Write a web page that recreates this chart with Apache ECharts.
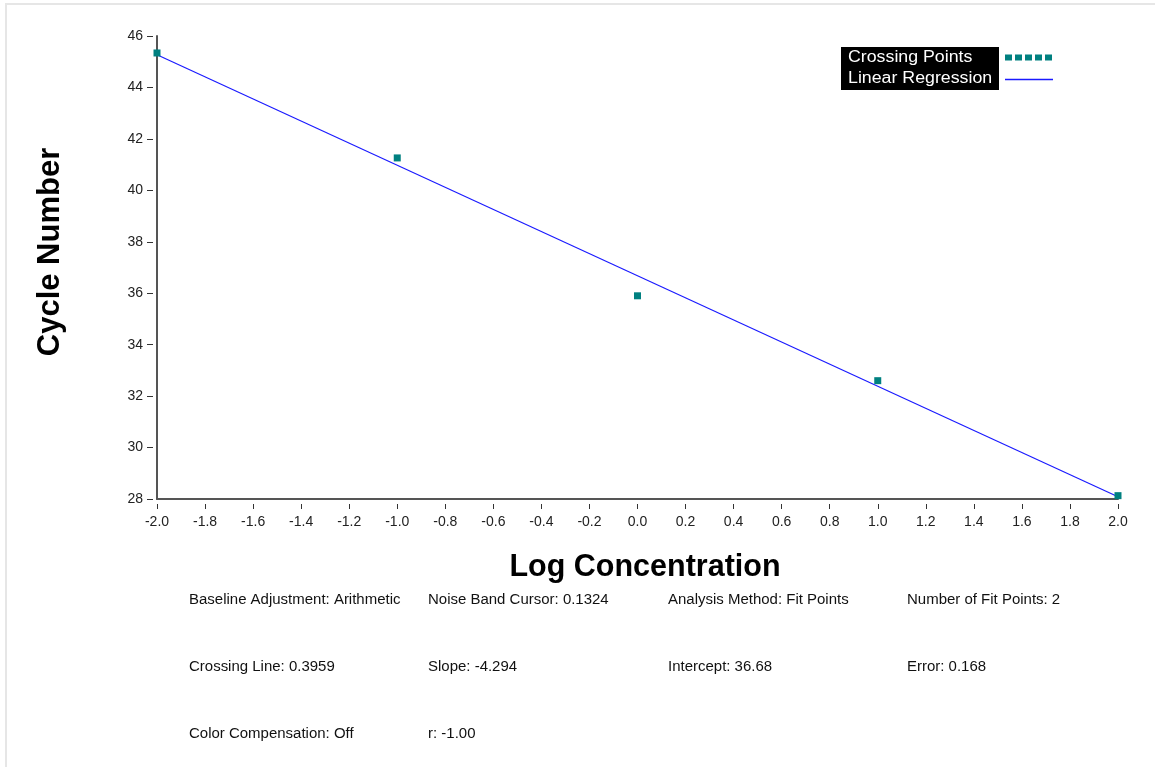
<!DOCTYPE html>
<html>
<head>
<meta charset="utf-8">
<script src="https://cdn.jsdelivr.net/npm/echarts@6/dist/echarts.min.js"></script>
<style>
html,body{margin:0;padding:0;background:#fff;}
#frame{position:absolute;left:5px;top:3px;width:1150px;height:764px;border-top:2px solid #e6e6e6;border-left:2px solid #e6e6e6;}
#chart{position:absolute;left:0;top:0;width:1155px;height:767px;}
</style>
</head>
<body>
<div id="frame"></div>
<div id="chart"></div>
<script>
// ---- data ----
const logConcentration = [-2, -1, 0, 1, 2];
const crossingPoints = [45.34, 41.26, 35.90, 32.60, 28.13];
const regressionX = [-2, 2];
const regressionY = [45.27, 28.09];
const yTicks = [28, 30, 32, 34, 36, 38, 40, 42, 44, 46];
const xTicks = [-2.0,-1.8,-1.6,-1.4,-1.2,-1.0,-0.8,-0.6,-0.4,-0.2,0.0,0.2,0.4,0.6,0.8,1.0,1.2,1.4,1.6,1.8,2.0];
const statsCol1 = ["Baseline Adjustment: Arithmetic", "Crossing Line: 0.3959", "Color Compensation: Off"];
const statsCol2 = ["Noise Band Cursor: 0.1324", "Slope: -4.294", "r: -1.00"];
const statsCol3 = ["Analysis Method: Fit Points", "Intercept: 36.68"];
const statsCol4 = ["Number of Fit Points: 2", "Error: 0.168"];
const legendNames = ["Crossing Points", "Linear Regression"];
const xTitle = "Log Concentration";
const yTitle = "Cycle Number";

const chart = echarts.init(document.getElementById('chart'), null, {renderer: 'canvas'});
const FAM = 'Arial';
const axisColor = '#555555';

const baseX = {
  type: 'value', min: -2, max: 2, interval: 0.2, gridIndex: 0,
  splitLine: {show: false}
};
const baseY = {
  type: 'value', min: 28, max: 46, interval: 2, gridIndex: 0,
  splitLine: {show: false}
};

const statCols = [statsCol1, statsCol2, statsCol3, statsCol4];
const colX = [189, 428, 668, 907];
const rowY = [600, 667, 734];
const graphics = [];
statCols.forEach((col, ci) => {
  col.forEach((t, ri) => {
    graphics.push({type: 'text', x: colX[ci], y: rowY[ri], scaleX: 1.07,
      style: {text: t, fontSize: 14, fontFamily: FAM, fill: '#111', verticalAlign: 'middle', align: 'left'}});
  });
});
// axis titles
graphics.push({type: 'text', x: 645, y: 568,
  style: {text: xTitle, fontSize: 30.5, fontWeight: 'bold', fontFamily: FAM, fill: '#000', align: 'center', verticalAlign: 'middle'}});
graphics.push({type: 'text', x: 50, y: 252, rotation: Math.PI / 2,
  style: {text: yTitle, fontSize: 31, fontWeight: 'bold', fontFamily: FAM, fill: '#000', align: 'center', verticalAlign: 'middle'}});
// legend box
graphics.push({type: 'rect', shape: {x: 841, y: 47, width: 158, height: 43}, style: {fill: '#000'}});
graphics.push({type: 'text', x: 848, y: 58, scaleX: 1.11, style: {text: legendNames[0], fontSize: 16, fontFamily: FAM, fill: '#fff', verticalAlign: 'middle'}});
graphics.push({type: 'text', x: 848, y: 79, scaleX: 1.11, style: {text: legendNames[1], fontSize: 16, fontFamily: FAM, fill: '#fff', verticalAlign: 'middle'}});
graphics.push({type: 'line', shape: {x1: 1005, y1: 57.5, x2: 1053, y2: 57.5},
  style: {stroke: '#008080', lineWidth: 6, lineDash: [7, 3]}});
graphics.push({type: 'line', shape: {x1: 1005, y1: 79.5, x2: 1053, y2: 79.5},
  style: {stroke: '#1a1aff', lineWidth: 1.5}});

chart.setOption({
  animation: false,
  backgroundColor: 'transparent',
  textStyle: {fontFamily: FAM},
  grid: {left: 157, right: 37, top: 36, bottom: 268, containLabel: false},
  xAxis: [
    Object.assign({}, baseX, {
      position: 'bottom',
      axisLine: {show: true, onZero: false, lineStyle: {color: axisColor, width: 2}},
      axisTick: {show: false}, axisLabel: {show: false}
    }),
    Object.assign({}, baseX, {
      position: 'bottom', offset: 5,
      axisLine: {show: false, onZero: false},
      axisTick: {show: true, length: 5, lineStyle: {color: '#333', width: 1}},
      axisLabel: {show: true, margin: 11, fontSize: 14, color: '#222', fontFamily: FAM,
        formatter: v => xTicks.find(t => Math.abs(t - v) < 1e-6).toFixed(1)}
    })
  ],
  yAxis: [
    Object.assign({}, baseY, {
      position: 'left',
      axisLine: {show: true, onZero: false, lineStyle: {color: axisColor, width: 2}},
      axisTick: {show: false}, axisLabel: {show: false}
    }),
    Object.assign({}, baseY, {
      position: 'left', offset: 4,
      axisLine: {show: false, onZero: false},
      axisTick: {show: true, length: 6, lineStyle: {color: '#333', width: 1}},
      axisLabel: {show: true, margin: 10, fontSize: 14, color: '#222', fontFamily: FAM,
        formatter: v => String(yTicks.find(t => Math.abs(t - v) < 1e-6))}
    })
  ],
  series: [
    {
      name: legendNames[1], type: 'line', xAxisIndex: 0, yAxisIndex: 0,
      data: regressionX.map((x, i) => [x, regressionY[i]]),
      showSymbol: false, symbol: 'none',
      lineStyle: {color: '#1a1aff', width: 1.2}, z: 3
    },
    {
      name: legendNames[0], type: 'scatter', xAxisIndex: 0, yAxisIndex: 0,
      data: logConcentration.map((x, i) => [x, crossingPoints[i]]),
      symbol: 'rect', symbolSize: 7,
      itemStyle: {color: '#008080', opacity: 1}, z: 4
    }
  ],
  graphic: graphics
});
</script>
</body>
</html>
